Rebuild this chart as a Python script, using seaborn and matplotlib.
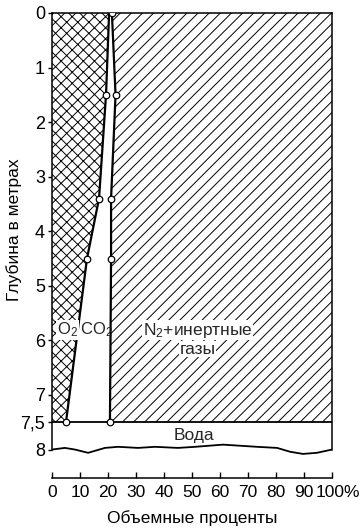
import pandas as pd
import matplotlib.pyplot as plt
import matplotlib.transforms as mtransforms
import seaborn as sns

# Data: depth in metres, boundaries in volume percent
depth = [0, 1.5, 3.4, 4.5, 7.5]
o2_edge = [20.4, 19.3, 16.8, 12.5, 5.0]      # O2 / CO2 boundary
co2_edge = [21.4, 22.7, 21.1, 21.1, 20.7]    # CO2 / N2 boundary

water_top = 7.5
wave_x = [0, 4.6, 8.2, 12.9, 18.9, 23.6, 30.7, 36.8, 45, 51.1, 61.1, 73.2, 80.4, 85, 89.6, 94.6, 98.2, 100]
wave_depth = [8.0, 7.97, 8.0, 8.06, 7.97, 7.95, 7.97, 7.95, 7.97, 7.95, 7.91, 7.95, 7.97, 8.04, 8.08, 8.06, 8.02, 8.0]

y_ticks = [0, 1, 2, 3, 4, 5, 6, 7, 7.5, 8]
y_labels = ['0', '1', '2', '3', '4', '5', '6', '7', '7,5', '8']
x_ticks = [0, 10, 20, 30, 40, 50, 60, 70, 80, 90, 100]
x_labels = ['0', '10', '20', '30', '40', '50', '60', '70', '80', '90', '100%']

df = pd.DataFrame({'depth': depth, 'o2': o2_edge, 'co2': co2_edge})

# Style
sns.set_theme(style='ticks')
plt.rcParams['font.family'] = ['Liberation Sans', 'DejaVu Sans']
plt.rcParams['mathtext.fontset'] = 'custom'
plt.rcParams['mathtext.rm'] = 'Liberation Sans'
plt.rcParams['mathtext.it'] = 'Liberation Sans'
plt.rcParams['hatch.color'] = 'black'
plt.rcParams['hatch.linewidth'] = 0.7

fig = plt.figure(figsize=(3.62, 5.30), dpi=100)
ax = fig.add_axes([0.1436, 0.1415, 0.7735, 0.834])

# Filled zones
ax.fill_betweenx(df['depth'], 0, df['o2'], facecolor='white', edgecolor='black',
                 hatch='xxx', linewidth=0, zorder=1)
ax.fill_betweenx(df['depth'], df['o2'], df['co2'], facecolor='white', linewidth=0, zorder=1)
ax.fill_betweenx(df['depth'], df['co2'], 100, facecolor='white', edgecolor='black',
                 hatch='///', linewidth=0, zorder=1)

# Boundary lines
sns.lineplot(data=df, x='o2', y='depth', sort=False, estimator=None, color='black',
             linewidth=1.6, ax=ax, zorder=3)
sns.lineplot(data=df, x='co2', y='depth', sort=False, estimator=None, color='black',
             linewidth=1.6, ax=ax, zorder=3)
sns.scatterplot(data=df[df['depth'] > 0], x='o2', y='depth', marker='o', s=22,
                facecolor='white', edgecolor='black', linewidth=0.9, ax=ax, zorder=4)
sns.scatterplot(data=df, x='co2', y='depth', marker='o', s=22,
                facecolor='white', edgecolor='black', linewidth=0.9, ax=ax, zorder=4)

# Water layer
ax.axhline(water_top, color='black', linewidth=1.3, zorder=3)
ax.plot(wave_x, wave_depth, color='black', linewidth=1.3, zorder=3)

# Labels inside
box = dict(facecolor='white', edgecolor='none', pad=0.5)
ax.text(5.6, 5.81, r'O$_2$', ha='center', va='center', fontsize=12, bbox=box, zorder=5)
ax.text(15.8, 5.81, r'CO$_2$', ha='center', va='center', fontsize=12, zorder=5)
ax.text(52, 5.81, r'N$_2$+инертные', ha='center', va='center', fontsize=12.5, bbox=box, zorder=5)
ax.text(52, 6.16, 'газы', ha='center', va='center', fontsize=12.5, bbox=box, zorder=5)
ax.text(50.6, 7.75, 'Вода', ha='center', va='center', fontsize=12.5, zorder=5)

# Axes
ax.set_xlim(0, 100)
ax.set_ylim(8.1, 0)
ax.set_yticks(y_ticks)
ax.set_yticklabels(y_labels)
ax.set_xticks(x_ticks)
ax.set_xticklabels(x_labels)
ax.tick_params(axis='y', direction='out', length=3, width=1, pad=2, labelsize=13, colors='black')
ax.tick_params(axis='x', direction='in', length=4, width=1, pad=5, labelsize=12.5, colors='black')

for side in ['left', 'right', 'top', 'bottom']:
    ax.spines[side].set_color('black')
    ax.spines[side].set_linewidth(1.1)
ax.spines['left'].set_bounds(0, 8.0)
ax.spines['right'].set_bounds(0, 8.0)
ax.spines['bottom'].set_position(('outward', 16.5))
ax.spines['bottom'].set_bounds(0, 100)
ax.grid(False)

# let "100" sit on its tick with the % hanging to the right
last = ax.xaxis.get_major_ticks()[-1].label1
last.set_transform(last.get_transform() + mtransforms.ScaledTranslation(0.06, 0, fig.dpi_scale_trans))

ax.set_xlabel('Объемные проценты', fontsize=12.5, color='black')
ax.set_ylabel('Глубина в метрах', fontsize=12.5, color='black')
ax.xaxis.set_label_coords(0.5, -0.125)
ax.yaxis.set_label_coords(-0.108, 0.51)

fig.savefig('out.png', dpi=100)
